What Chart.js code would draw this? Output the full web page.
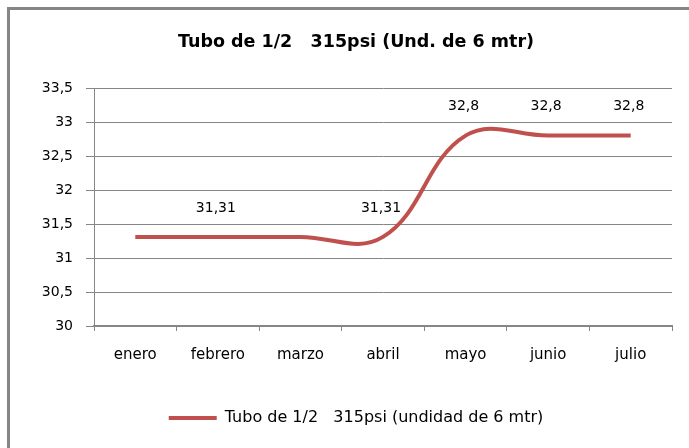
<!DOCTYPE html>
<html>
<head>
<meta charset="utf-8">
<script src="https://cdn.jsdelivr.net/npm/chart.js@4"></script>
<style>
  html, body { margin: 0; padding: 0; background: #fff; }
  #wrap { width: 689px; height: 448px; }
</style>
</head>
<body>
<div id="wrap"><canvas id="mycanvas" width="689" height="448"></canvas></div>
<script>
var meses = ['enero', 'febrero', 'marzo', 'abril', 'mayo', 'junio', 'julio'];
var precios = [31.31, 31.31, 31.31, 31.31, 32.8, 32.8, 32.8];
// solo algunas etiquetas se ven en el original
var etiquetas = ['', '31,31', '', '31,31', '32,8', '32,8', '32,8'];
var yTicks = [30, 30.5, 31, 31.5, 32, 32.5, 33, 33.5];

var titulo = 'Tubo de 1/2   315psi (Und. de 6 mtr)';
var serie = 'Tubo de 1/2   315psi (undidad de 6 mtr)';

var gris = '#868686';
var rojo = '#C0504D';
var fuente = '"DejaVu Sans", sans-serif';

var marco = {
	id: 'marco',
	beforeDraw: function(chart) {
		var c = chart.ctx;
		c.save();
		c.fillStyle = '#fff';
		c.fillRect(0, 0, chart.width, chart.height);
		c.fillStyle = gris;
		c.fillRect(7, 7, chart.width - 7, 3);
		c.fillRect(7, 7, 3, chart.height - 7);
		c.restore();
	}
};

var valores = {
	id: 'valores',
	afterDatasetsDraw: function(chart) {
		var c = chart.ctx;
		var meta = chart.getDatasetMeta(0);
		c.save();
		c.font = '14px ' + fuente;
		c.fillStyle = '#000';
		c.textAlign = 'center';
		c.textBaseline = 'middle';
		for (var i = 0; i < etiquetas.length; i++) {
			if (!etiquetas[i]) continue;
			var p = meta.data[i];
			c.fillText(etiquetas[i], p.x - 2, p.y - 29);
		}
		c.restore();
	}
};

var ctx = document.getElementById('mycanvas');

var lineGraph = new Chart(ctx, {
	type: 'line',
	data: {
		labels: meses,
		datasets: [{
			label: serie,
			data: precios,
			borderColor: rojo,
			backgroundColor: rojo,
			borderWidth: 4,
			pointRadius: 0,
			tension: 0.4,
			fill: false
		}]
	},
	options: {
		responsive: false,
		animation: false,
		layout: { padding: { left: 40, right: 17, top: 0, bottom: 12 } },
		plugins: {
			title: {
				display: true,
				text: titulo,
				color: '#000',
				font: { family: fuente, size: 17.5, weight: 'bold', lineHeight: 1.2 },
				padding: { top: 32, bottom: 35 }
			},
			legend: {
				display: true,
				position: 'bottom',
				labels: {
					color: '#000',
					font: { family: fuente, size: 16 },
					usePointStyle: true,
					pointStyle: 'line',
					pointStyleWidth: 48,
					padding: 10
				}
			},
			tooltip: { enabled: false }
		},
		scales: {
			x: {
				offset: true,
				grid: { offset: true, drawOnChartArea: false, color: gris, tickLength: 5 },
				border: { display: true, color: gris, width: 2 },
				ticks: { color: '#000', font: { family: fuente, size: 15 }, padding: 15, maxRotation: 0 },
				afterFit: function(scale) { scale.height = 74; }
			},
			y: {
				min: 30,
				max: 33.5,
				afterBuildTicks: function(scale) {
					scale.ticks = yTicks.map(function(v) { return { value: v }; });
				},
				grid: { color: gris, tickLength: 8 },
				border: { display: true, color: gris, width: 1 },
				ticks: {
					color: '#000',
					font: { family: fuente, size: 14 },
					padding: 13,
					callback: function(v) { return String(v).replace('.', ','); }
				},
				afterFit: function(scale) { scale.width = 54; }
			}
		}
	},
	plugins: [marco, valores]
});
</script>
</body>
</html>
